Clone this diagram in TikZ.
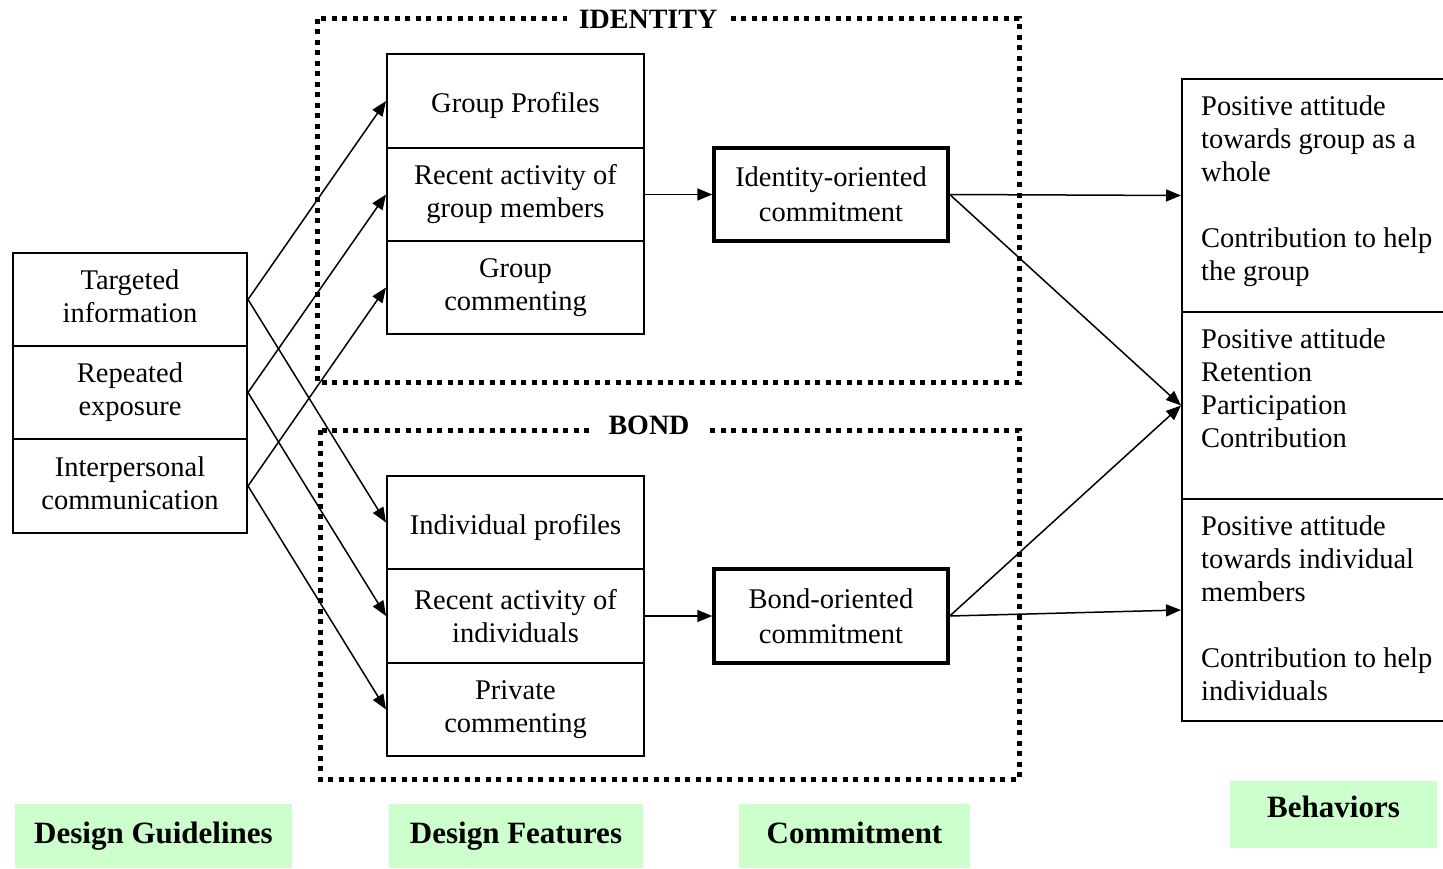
\documentclass[tikz,border=0pt]{standalone}
\usepackage{fontspec}
\setmainfont{Liberation Serif}
\usetikzlibrary{arrows.meta}
\definecolor{labelgreen}{HTML}{CCFFCC}
\begin{document}
\begin{tikzpicture}[x=1pt,y=-1pt,
  txt/.style={font=\fontsize{28.5}{33}\selectfont},
  cell/.style={draw, line width=2pt, txt, align=center, inner sep=0pt},
  oneline/.style={text height=24pt, text depth=0pt},
  commitbox/.style={draw, line width=3.5pt, font=\fontsize{28.5}{35}\selectfont, align=center, inner sep=0pt, minimum width=234pt},
  behbox/.style={draw, line width=2pt, minimum width=264pt, inner sep=0pt},
  behtxt/.style={txt, align=left, inner sep=0pt, anchor=north west},
  dotbox/.style={line width=5pt, dash pattern=on 5pt off 5.5pt},
  head/.style={font=\fontsize{28}{30}\selectfont\bfseries, fill=white, inner ysep=2pt},
  greenlabel/.style={fill=labelgreen, font=\fontsize{31}{34}\selectfont\bfseries, inner sep=0pt},
  arr/.style={line width=1.5pt, -{Triangle[length=15pt,width=12pt]}}
]
\useasboundingbox (0,0) rectangle (1443,869);

% dotted group boxes
\draw[dotbox] (317,19) rectangle (1019,382);
\draw[dotbox] (320,430) rectangle (1019,779);
\node[head, inner xsep=12pt] (idlab) at (648,19) {IDENTITY};
\node[head, inner xsep=18pt] (bondlab) at (649,425) {BOND};

% design guidelines
\node[cell, minimum width=234pt, minimum height=93pt] (tg) at (130,299.5) {Targeted\\information\vphantom{g}};
\node[cell, minimum width=234pt, minimum height=93pt] (rp) at (130,392.5) {Repeated\\exposure};
\node[cell, minimum width=234pt, minimum height=94pt] (ic) at (130,486) {Interpersonal\\communication\vphantom{g}};

% design features (identity)
\node[cell, oneline, minimum width=257pt, minimum height=94pt] (gp) at (515.5,101) {Group Profiles};
\node[cell, minimum width=257pt, minimum height=93pt] (ra) at (515.5,194.5) {Recent activity of\\group members};
\node[cell, minimum width=257pt, minimum height=93pt] (gc) at (515.5,287.5) {Group\\commenting};

% design features (bond)
\node[cell, oneline, minimum width=257pt, minimum height=93pt] (ipf) at (515.5,522.5) {Individual profiles};
\node[cell, minimum width=257pt, minimum height=94pt] (ri) at (515.5,616) {Recent activity of\\individuals};
\node[cell, minimum width=257pt, minimum height=93pt] (pc) at (515.5,709.5) {Private\\commenting};

% commitment
\node[commitbox, minimum height=93pt] (idc) at (831,194.5) {Identity-oriented\\commitment};
\node[commitbox, minimum height=94pt] (bdc) at (831,616) {Bond-oriented\\commitment};

% behaviors
\node[behbox, minimum height=233pt] (b1) at (1314,195.5) {};
\node[behbox, minimum height=187pt] (b2) at (1314,405.5) {};
\node[behbox, minimum height=222pt] (b3) at (1314,610) {};
\node[behtxt] (b1t) at (1201,96) {Positive attitude\\towards group as a\\whole\\[33pt]Contribution to help\\the group};
\node[behtxt] (b2t) at (1201,329) {Positive attitude\\Retention\\Participation\\Contribution};
\node[behtxt] (b3t) at (1201,516) {Positive attitude\\towards individual\\members\\[33pt]Contribution to help\\individuals};

% bottom labels
\node[greenlabel, minimum width=277pt, minimum height=64pt] (lg1) at (153.5,836) {Design Guidelines};
\node[greenlabel, minimum width=254pt, minimum height=64pt] (lg2) at (516,836) {Design Features};
\node[greenlabel, minimum width=231pt, minimum height=64pt, text height=20.5pt, text depth=6pt] (lg3) at (854.5,836) {Commitment};
\node[greenlabel, minimum width=207pt, minimum height=67pt, text height=20.5pt, text depth=14.5pt] (lg4) at (1333.5,814.5) {Behaviors};

% connectors
\draw[arr] (tg.east) -- (gp.west);
\draw[arr] (tg.east) -- (ipf.west);
\draw[arr] (rp.east) -- (ra.west);
\draw[arr] (rp.east) -- (ri.west);
\draw[arr] (ic.east) -- (gc.west);
\draw[arr] (ic.east) -- (pc.west);
\draw[arr] (ra.east) -- (idc.west);
\draw[arr] (ri.east) -- (bdc.west);
\draw[arr] (idc.east) -- (b1.west);
\draw[arr] (idc.east) -- (b2.west);
\draw[arr] (bdc.east) -- (b2.west);
\draw[arr] (bdc.east) -- (b3.west);
\end{tikzpicture}
\end{document}
